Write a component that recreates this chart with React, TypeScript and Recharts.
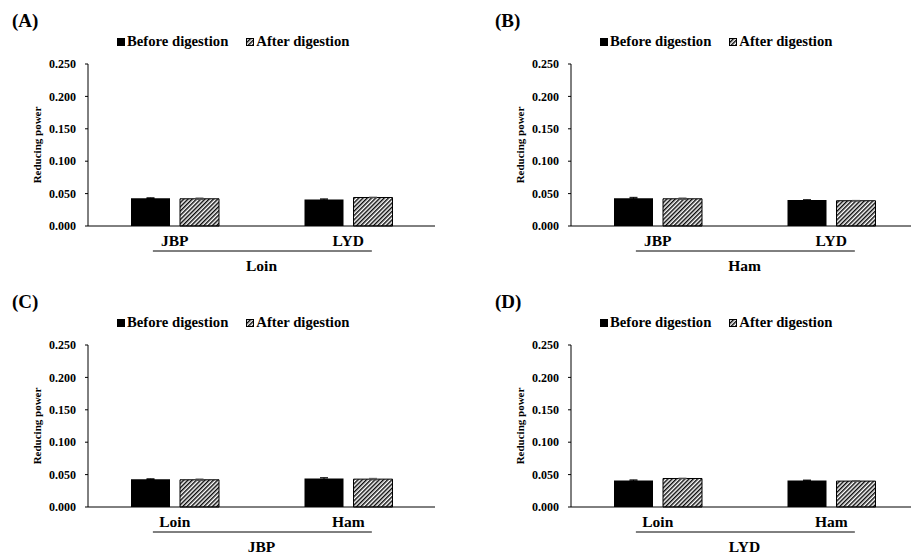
import React from "react";
import { BarChart, Bar, XAxis, YAxis, Legend, ErrorBar } from "recharts";

const FONT = '"Liberation Serif", "Times New Roman", serif';

// panel (A) loin
const loinCats = ["JBP", "LYD"];
const loinBefore = [0.043, 0.041];
const loinAfter = [0.042, 0.044];
const loinBeforeErr = [0.0005, 0.0008];
const loinAfterErr = [0.0012, 0.0005];

// panel (B) ham
const hamCats = ["JBP", "LYD"];
const hamBefore = [0.043, 0.04];
const hamAfter = [0.042, 0.039];
const hamBeforeErr = [0.0012, 0.0005];
const hamAfterErr = [0.0012, 0.0005];

// panel (C) JBP
const jbpCats = ["Loin", "Ham"];
const jbpBefore = [0.043, 0.044];
const jbpAfter = [0.042, 0.043];
const jbpBeforeErr = [0.0005, 0.0012];
const jbpAfterErr = [0.0012, 0.0012];

// panel (D) LYD
const lydCats = ["Loin", "Ham"];
const lydBefore = [0.041, 0.041];
const lydAfter = [0.044, 0.04];
const lydBeforeErr = [0.0008, 0.0005];
const lydAfterErr = [0.0005, 0.0005];

const yTicks = [0, 0.05, 0.1, 0.15, 0.2, 0.25];
const seriesOrder = ["before", "after"];

const makeRows = (cats, before, after, bErr, aErr) =>
  cats.map((c, i) => ({
    cat: c,
    before: before[i],
    after: after[i],
    beforeErr: bErr[i],
    afterErr: aErr[i],
  }));

const HatchDef = ({ id }) => (
  <pattern id={id} width={3} height={3} patternUnits="userSpaceOnUse" patternTransform="rotate(45)">
    <rect width={3} height={3} fill="#fff" />
    <line x1={0.75} y1={0} x2={0.75} y2={3} stroke="#000" strokeWidth={1.4} />
  </pattern>
);

const HatchSwatch = ({ id }) => (
  <svg width={8} height={8} style={{ display: "block" }}>
    <defs>
      <HatchDef id={id} />
    </defs>
    <rect x={0.5} y={0.5} width={7} height={7} fill={`url(#${id})`} stroke="#000" strokeWidth={1} />
  </svg>
);

function Panel({ id, title, rows, group, left, top }) {
  const hatchId = `hatch-${id}`;

  const renderLegend = (props) => {
    const items = [...(props.payload || [])].sort(
      (a, b) => seriesOrder.indexOf(a.dataKey) - seriesOrder.indexOf(b.dataKey)
    );
    return (
      <div style={{ display: "flex", alignItems: "center", fontFamily: FONT, fontSize: 14.7, fontWeight: 700, lineHeight: "15px", color: "#000" }}>
        {items.map((it, i) => (
          <div key={i} style={{ display: "flex", alignItems: "center", marginRight: 18 }}>
            {it.dataKey === "before" ? (
              <div style={{ width: 8, height: 8, background: "#000" }} />
            ) : (
              <HatchSwatch id={`${hatchId}-lg`} />
            )}
            <span style={{ marginLeft: 2, whiteSpace: "nowrap" }}>{it.value}</span>
          </div>
        ))}
      </div>
    );
  };

  const renderGroup = (props) => {
    const vb = props.viewBox;
    const x1 = vb.x + vb.width * 0.187;
    const x2 = vb.x + vb.width * 0.818;
    return (
      <g>
        <line x1={x1} x2={x2} y1={vb.y + 25} y2={vb.y + 25} stroke="#000" strokeWidth={1} />
        <text x={vb.x + vb.width / 2} y={vb.y + 45} textAnchor="middle" fontFamily={FONT} fontSize={15.5} fontWeight={700} fill="#000">
          {group}
        </text>
      </g>
    );
  };

  const renderYLabel = (props) => {
    const vb = props.viewBox;
    const x = vb.x + 17;
    const y = vb.y + vb.height / 2;
    return (
      <text x={x} y={y} transform={`rotate(-90, ${x}, ${y})`} textAnchor="middle" dominantBaseline="central" fontFamily={FONT} fontSize={11} fontWeight={700} fill="#000">
        Reducing power
      </text>
    );
  };

  return (
    <div style={{ position: "absolute", left, top }}>
      <div style={{ position: "absolute", left: 12, top: 11, fontFamily: FONT, fontSize: 19, fontWeight: 700, lineHeight: "19px", color: "#000" }}>
        {title}
      </div>
      <BarChart width={440} height={280} data={rows} margin={{ top: 64, right: 5, bottom: 4, left: 20 }} barSize={39} barGap={10}>
        <defs>
          <HatchDef id={hatchId} />
        </defs>
        <XAxis
          dataKey="cat"
          axisLine={{ stroke: "#000" }}
          tickLine={false}
          tickSize={0}
          tickMargin={9}
          height={50}
          tick={{ fontFamily: FONT, fontSize: 15.5, fontWeight: 700, fill: "#000" }}
          label={renderGroup}
        />
        <YAxis
          domain={[0, 0.25]}
          ticks={yTicks}
          tickFormatter={(v) => v.toFixed(3)}
          width={68}
          tickSize={3}
          tickMargin={9}
          axisLine={{ stroke: "#000" }}
          tickLine={{ stroke: "#000" }}
          tick={{ fontFamily: FONT, fontSize: 12, fontWeight: 700, fill: "#000" }}
          label={renderYLabel}
        />
        <Legend verticalAlign="middle" content={renderLegend} wrapperStyle={{ top: 34, left: 117, width: "auto" }} />
        <Bar dataKey="before" name="Before digestion" fill="#000" isAnimationActive={false}>
          <ErrorBar dataKey="beforeErr" width={4} stroke="#000" strokeWidth={1} direction="y" />
        </Bar>
        <Bar dataKey="after" name="After digestion" fill={`url(#${hatchId})`} stroke="#000" strokeWidth={1} isAnimationActive={false}>
          <ErrorBar dataKey="afterErr" width={4} stroke="#555" strokeWidth={1} direction="y" />
        </Bar>
      </BarChart>
    </div>
  );
}

export default function App() {
  return (
    <div style={{ position: "absolute", left: 0, top: 0, width: 911, height: 555, overflow: "hidden", background: "#fff" }}>
      <Panel id="a" title="(A)" group="Loin" left={0} top={0}
        rows={makeRows(loinCats, loinBefore, loinAfter, loinBeforeErr, loinAfterErr)} />
      <Panel id="b" title="(B)" group="Ham" left={483} top={0}
        rows={makeRows(hamCats, hamBefore, hamAfter, hamBeforeErr, hamAfterErr)} />
      <Panel id="c" title="(C)" group="JBP" left={0} top={281}
        rows={makeRows(jbpCats, jbpBefore, jbpAfter, jbpBeforeErr, jbpAfterErr)} />
      <Panel id="d" title="(D)" group="LYD" left={483} top={281}
        rows={makeRows(lydCats, lydBefore, lydAfter, lydBeforeErr, lydAfterErr)} />
    </div>
  );
}
